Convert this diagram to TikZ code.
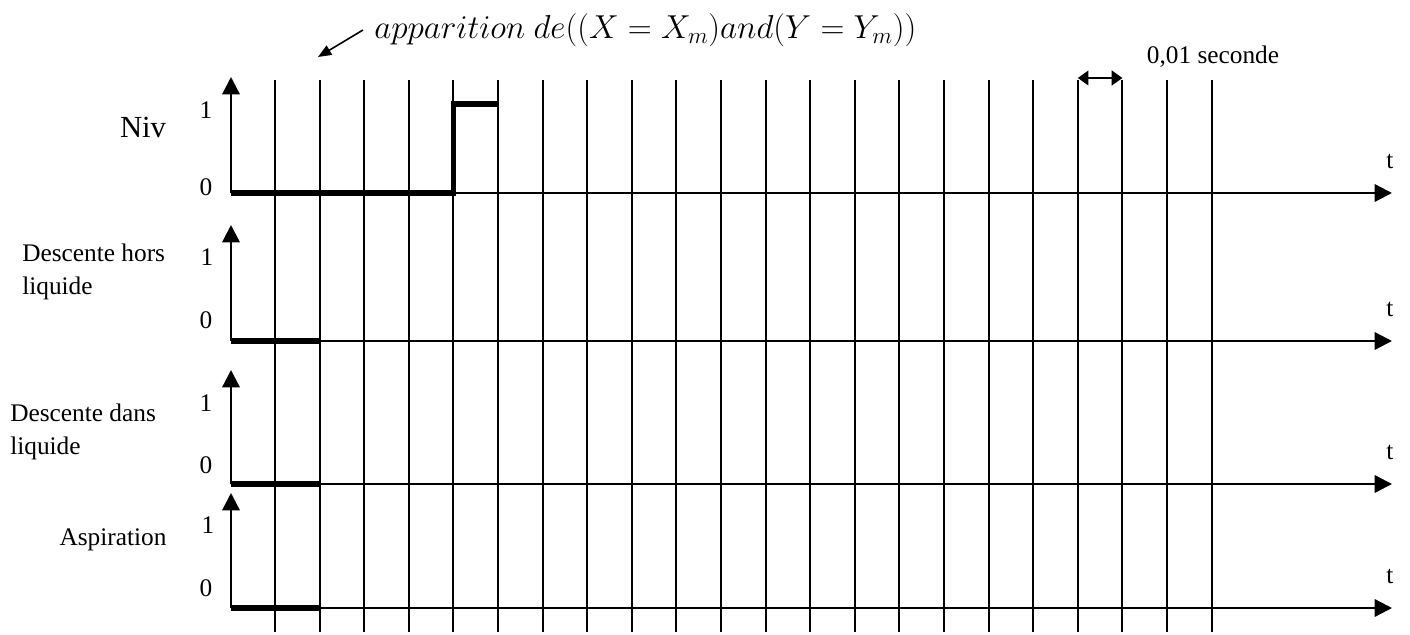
\documentclass[tikz,border=0pt]{standalone}
\usepackage{fontspec}
\setmainfont{Liberation Serif}
\usetikzlibrary{arrows.meta,positioning}
\tikzset{
  axe/.style={line width=1.7pt,-{Triangle[length=13pt,width=13pt]}},
  signal/.style={line width=3.9pt,line join=miter},
  grille/.style={line width=1.5pt},
  lbl/.style={font=\fontsize{19}{23}\selectfont,inner sep=0pt}
}

\begin{document}
\begin{tikzpicture}[x=0.75pt,y=-0.75pt,
  rowlbl/.style={lbl,align=left,anchor=west,font=\fontsize{19}{25}\selectfont}
]
  \useasboundingbox (0,0) rectangle (1410,635);
  % lignes de temps
  \foreach \i in {0,...,21} {
    \coordinate (g\i) at ({275+44.6*\i},80);
    \coordinate (b\i) at ({275+44.6*\i},632);
    \draw[grille] (g\i) -- (b\i);
  }
  % axes
  \foreach \nom/\yz/\yh in {niv/193/77,hors/341/225,dans/484/370,asp/608/493} {
    \coordinate (\nom-o) at (231,\yz);
    \coordinate (\nom-h) at (231,\yh);
    \coordinate (\nom-t) at (1392,\yz);
    \draw[axe] (\nom-o) -- (\nom-h);
    \draw[axe] (\nom-o) -- (\nom-t);
    \node[lbl] (\nom-tl) at (1390,\yz-32) {t};
  }
  \node[lbl] (niv-1) at (206,110) {1};
  \node[lbl] (niv-0) at (206,187) {0};
  \node[lbl] (hors-1) at (207,257) {1};
  \node[lbl] (hors-0) at (206,320) {0};
  \node[lbl] (dans-1) at (206,403) {1};
  \node[lbl] (dans-0) at (206,465) {0};
  \node[lbl] (asp-1) at (208,525) {1};
  \node[lbl] (asp-0) at (206,588) {0};
  % noms des signaux
  \node[lbl,font=\fontsize{23}{27}\selectfont] (niv) at (143,127) {Niv};
  \node[rowlbl] (hors) at (22,272) {Descente hors\\liquide};
  \node[rowlbl] (dans) at (10,432) {Descente dans\\liquide};
  \node[lbl] (asp) at (113,540) {Aspiration};
  % chronogrammes
  \draw[signal] (niv-o) -- (g4 |- niv-o) -- (g4 |- 0,104) -- (g5 |- 0,104);
  \draw[signal] (hors-o) -- (g1 |- hors-o);
  \draw[signal] (dans-o) -- (g1 |- dans-o);
  \draw[signal] (asp-o) -- (g1 |- asp-o);
  % annotations
  \node[lbl,anchor=west,font=\fontsize{25}{29}\selectfont] (app) at (374,30)
    {$apparition\ de\big((X=X_m)and(Y=Y_m)\big)$};
  \coordinate (app-st) at (363,30);
  \coordinate (app-pt) at (318,57);
  \draw[line width=1.2pt,-{Triangle[length=10pt,width=8pt]}] (app-st) -- (app-pt);
  \draw[line width=1.6pt,{Triangle[length=8pt,width=11pt]}-{Triangle[length=8pt,width=11pt]}]
    ([yshift=1.5pt]g18) -- ([yshift=1.5pt]g19);
  \node[lbl] (pas) at (1213,57) {0,01 seconde};
\end{tikzpicture}
\end{document}
